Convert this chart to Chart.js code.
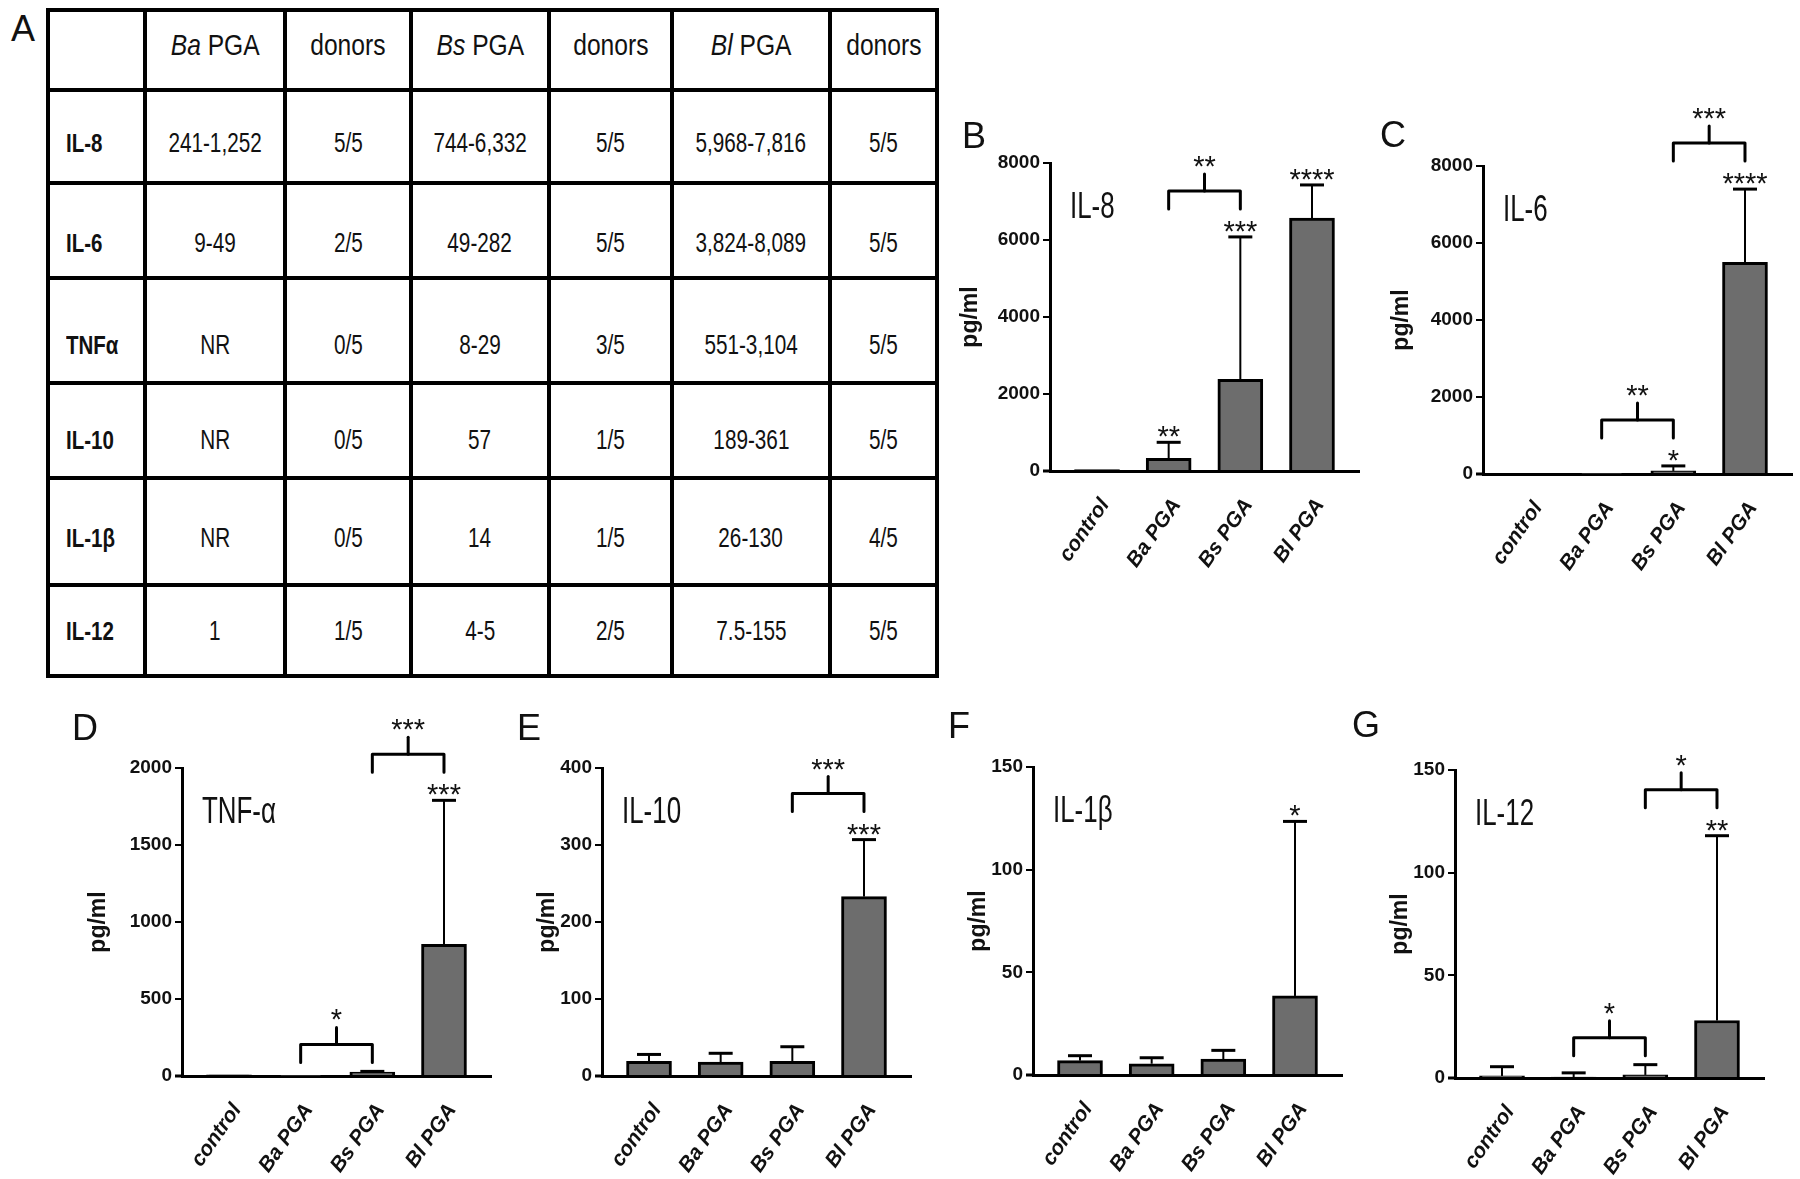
<!DOCTYPE html>
<html>
<head>
<meta charset="utf-8">
<title>PGA cytokine responses</title>
<script src="https://cdn.jsdelivr.net/npm/chart.js@4.4.1/dist/chart.umd.min.js"></script>
<style>
  html, body { margin: 0; padding: 0; background: #fff; }
  body { width: 1800px; height: 1179px; position: relative; overflow: hidden; font-family: 'Liberation Sans', Arial, sans-serif; color: #111; }
  .panel { position: absolute; font-size: 36px; line-height: 36px; }
  .rule { position: absolute; background: #000; }
  .cell { position: absolute; height: 30px; line-height: 30px; font-size: 28px; text-align: center; white-space: nowrap; }
  .cell span { display: inline-block; transform: scaleX(0.74); transform-origin: center; }
  .cell.head { font-size: 30px; }
  .cell.head span { transform: scaleX(0.82); }
  .cell.name { text-align: left; font-weight: bold; font-size: 25px; }
  .cell.name span { transform: scaleX(0.82); transform-origin: left center; }
  canvas { position: absolute; }
</style>
</head>
<body>
<div id="table"></div>
<canvas id="chartB" width="461" height="538"></canvas>
<canvas id="chartC" width="461" height="538"></canvas>
<canvas id="chartD" width="461" height="538"></canvas>
<canvas id="chartE" width="461" height="538"></canvas>
<canvas id="chartF" width="461" height="538"></canvas>
<canvas id="chartG" width="461" height="538"></canvas>
<script>
// ---- table A ----
const cytokines = ['IL-8', 'IL-6', 'TNFα', 'IL-10', 'IL-1β', 'IL-12'];
const baRange  = ['241-1,252', '9-49', 'NR', 'NR', 'NR', '1'];
const baDonors = ['5/5', '2/5', '0/5', '0/5', '0/5', '1/5'];
const bsRange  = ['744-6,332', '49-282', '8-29', '57', '14', '4-5'];
const bsDonors = ['5/5', '5/5', '3/5', '1/5', '1/5', '2/5'];
const blRange  = ['5,968-7,816', '3,824-8,089', '551-3,104', '189-361', '26-130', '7.5-155'];
const blDonors = ['5/5', '5/5', '5/5', '5/5', '4/5', '5/5'];
const species  = ['Ba', 'Bs', 'Bl'];

// ---- bar charts B-G ----
const groups = ['control', 'Ba PGA', 'Bs PGA', 'Bl PGA'];

const il8Mean  = [40, 330, 2380, 6570];
const il8Err   = [0, 415, 3700, 860];
const il8Stars = ['', '**', '***', '****'];
const il8Brackets = [[1, 2, '**']];

const il6Mean  = [0, 12, 80, 5500];
const il6Err   = [0, 0, 130, 1900];
const il6Stars = ['', '', '*', '****'];
const il6Brackets = [[1, 2, '**'], [2, 3, '***']];

const tnfMean  = [8, 3, 25, 855];
const tnfErr   = [0, 0, 5, 935];
const tnfStars = ['', '', '', '***'];
const tnfBrackets = [[1, 2, '*'], [2, 3, '***']];

const il10Mean  = [19, 18, 19, 233];
const il10Err   = [9, 11.5, 19, 74];
const il10Stars = ['', '', '', '***'];
const il10Brackets = [[2, 3, '***']];

const il1bMean  = [7, 5.5, 7.8, 38.5];
const il1bErr   = [2.4, 2.9, 4.2, 85];
const il1bStars = ['', '', '', '*'];
const il1bBrackets = [];

const il12Mean  = [1, 0.5, 1.5, 28];
const il12Err   = [4.5, 2, 5, 90];
const il12Stars = ['', '', '', '**'];
const il12Brackets = [[1, 2, '*'], [2, 3, '*']];

const SANS = "'Liberation Sans', Arial, sans-serif";

// table geometry
const colX = [48, 145, 285, 411, 549, 672, 830, 937];
const rowY = [10, 90, 183, 278, 383, 478, 585, 676];
const textY = [45, 143, 243, 345, 440, 538, 631];

function buildTable() {
  const box = document.getElementById('table');
  const add = (cls, css, html) => {
    const d = document.createElement('div');
    d.className = cls;
    Object.assign(d.style, css);
    if (html !== undefined) d.innerHTML = '<span>' + html + '</span>';
    box.appendChild(d);
  };
  colX.forEach((x, i) => {
    const w = (i === 0 || i === colX.length - 1) ? 4.5 : 3.5;
    add('rule', { left: (x - w / 2) + 'px', top: (rowY[0] - 2) + 'px', width: w + 'px', height: (rowY[rowY.length - 1] - rowY[0] + 4) + 'px' });
  });
  rowY.forEach((y, i) => {
    const h = (i === 0 || i === rowY.length - 1) ? 4.5 : 4;
    add('rule', { left: (colX[0] - 2) + 'px', top: (y - h / 2) + 'px', width: (colX[colX.length - 1] - colX[0] + 4) + 'px', height: h + 'px' });
  });
  const header = [''];
  species.forEach(s => { header.push('<i>' + s + '</i> PGA', 'donors'); });
  const rows = [header];
  cytokines.forEach((c, i) => {
    rows.push([c, baRange[i], baDonors[i], bsRange[i], bsDonors[i], blRange[i], blDonors[i]]);
  });
  rows.forEach((row, r) => {
    row.forEach((txt, c) => {
      const first = c === 0;
      const cls = r === 0 ? 'cell head' : (first ? 'cell name' : 'cell');
      add(cls, {
        left: (colX[c] + (first ? 18 : 0)) + 'px',
        width: (colX[c + 1] - colX[c] - (first ? 18 : 0)) + 'px',
        top: (textY[r] - 15) + 'px'
      }, txt);
    });
  });
}

function addPanelLetter(letter, left, baseline) {
  const d = document.createElement('div');
  d.className = 'panel';
  d.textContent = letter;
  d.style.left = left + 'px';
  d.style.top = (baseline - 30) + 'px';
  document.body.appendChild(d);
}

function drawStars(ctx, text, cx, cy) {
  ctx.font = '29px ' + SANS;
  ctx.fillStyle = '#111';
  ctx.textAlign = 'center';
  ctx.textBaseline = 'alphabetic';
  ctx.fillText(text, cx, cy + 17);
}

function makeChart(id, spec, pos) {
  const canvas = document.getElementById(id);
  canvas.style.left = (pos.left - 140) + 'px';
  canvas.style.top = (pos.top - 110) + 'px';

  const marks = {
    id: 'marks',
    afterDatasetsDraw(chart) {
      const { ctx, chartArea } = chart;
      const x = chart.scales.x, y = chart.scales.y;
      const tops = [];
      ctx.save();
      ctx.strokeStyle = '#000';
      spec.mean.forEach((m, i) => {
        const e = spec.err[i];
        const cx = x.getPixelForValue(i);
        const yTop = y.getPixelForValue(m + e);
        if (e > 0) {
          ctx.lineWidth = 2;
          ctx.beginPath();
          ctx.moveTo(cx, y.getPixelForValue(m));
          ctx.lineTo(cx, yTop);
          ctx.stroke();
          ctx.lineWidth = 3;
          ctx.beginPath();
          ctx.moveTo(cx - 12, yTop);
          ctx.lineTo(cx + 12, yTop);
          ctx.stroke();
        }
        if (spec.stars[i]) drawStars(ctx, spec.stars[i], cx, yTop - 13);
        tops.push(spec.stars[i] ? yTop - 46 : yTop - 27);
      });
      spec.brackets.forEach(([a, b, label]) => {
        const x1 = x.getPixelForValue(a), x2 = x.getPixelForValue(b);
        const yb = Math.min(tops[a], tops[b]);
        ctx.lineWidth = 3;
        ctx.lineJoin = 'round';
        ctx.lineCap = 'round';
        ctx.beginPath();
        ctx.moveTo(x1, yb + 18);
        ctx.lineTo(x1, yb);
        ctx.lineTo(x2, yb);
        ctx.lineTo(x2, yb + 18);
        ctx.stroke();
        const xm = (x1 + x2) / 2;
        ctx.beginPath();
        ctx.moveTo(xm, yb);
        ctx.lineTo(xm, yb - 17);
        ctx.stroke();
        drawStars(ctx, label, xm, yb - 32);
      });
      // x axis runs a little past the y axis, to the end of the zero tick
      ctx.lineWidth = 3;
      ctx.lineCap = 'butt';
      ctx.beginPath();
      ctx.moveTo(chartArea.left - 7, y.getPixelForValue(0));
      ctx.lineTo(chartArea.left, y.getPixelForValue(0));
      ctx.stroke();
      // cytokine name, condensed like the original narrow face
      ctx.translate(chartArea.left + 20, chartArea.top + 55);
      ctx.scale(0.7, 1);
      ctx.font = '37px ' + SANS;
      ctx.fillStyle = '#111';
      ctx.textAlign = 'left';
      ctx.textBaseline = 'alphabetic';
      ctx.fillText(spec.label, 0, 0);
      ctx.restore();
    }
  };

  return new Chart(canvas, {
    type: 'bar',
    data: {
      datasets: [{
        data: spec.mean.map((v, i) => ({ x: i, y: v })),
        backgroundColor: '#6d6d6d',
        borderColor: '#000',
        borderWidth: 3,
        barThickness: 45
      }]
    },
    options: {
      responsive: false,
      animation: false,
      events: [],
      layout: { padding: { left: 0, top: 110, right: 12, bottom: 0 } },
      plugins: { legend: { display: false }, tooltip: { enabled: false } },
      scales: {
        x: {
          type: 'linear',
          offset: false,
          min: -0.656,
          max: 3.656,
          afterBuildTicks: s => { s.ticks = groups.map((g, i) => ({ value: i })); },
          afterFit: s => { s.height = 120; },
          grid: { display: false, drawTicks: false },
          border: { color: '#000', width: 3 },
          ticks: {
            callback: v => groups[v],
            autoSkip: false,
            minRotation: 55,
            maxRotation: 55,
            padding: 23,
            labelOffset: 8,
            color: '#111',
            font: { family: SANS, size: 21, weight: 'bold', style: 'italic' }
          }
        },
        y: {
          min: 0,
          max: spec.max,
          afterFit: s => { s.width = 140; },
          grid: { drawOnChartArea: false, drawTicks: true, tickLength: 7, color: '#000', lineWidth: 2 },
          border: { color: '#000', width: 3 },
          ticks: {
            stepSize: spec.step,
            callback: v => String(v),
            padding: 3,
            color: '#111',
            font: { family: SANS, size: 19, weight: 'bold' }
          },
          title: {
            display: true,
            text: 'pg/ml',
            color: '#111',
            font: { family: SANS, size: 23, weight: 'bold' },
            padding: { top: pos.titlePad, bottom: 0 }
          }
        }
      }
    },
    plugins: [marks]
  });
}

buildTable();
addPanelLetter('A', 11, 41);
addPanelLetter('B', 962, 148);
addPanelLetter('C', 1380, 147);
addPanelLetter('D', 72, 740);
addPanelLetter('E', 517, 740);
addPanelLetter('F', 948, 738);
addPanelLetter('G', 1352, 737);

makeChart('chartB', { label: 'IL-8', mean: il8Mean, err: il8Err, stars: il8Stars, brackets: il8Brackets, max: 8000, step: 2000 },
  { left: 1050, top: 163, titlePad: 47 });
makeChart('chartC', { label: 'IL-6', mean: il6Mean, err: il6Err, stars: il6Stars, brackets: il6Brackets, max: 8000, step: 2000 },
  { left: 1483, top: 166, titlePad: 45 });
makeChart('chartD', { label: 'TNF-α', mean: tnfMean, err: tnfErr, stars: tnfStars, brackets: tnfBrackets, max: 2000, step: 500 },
  { left: 182, top: 768, titlePad: 43 });
makeChart('chartE', { label: 'IL-10', mean: il10Mean, err: il10Err, stars: il10Stars, brackets: il10Brackets, max: 400, step: 100 },
  { left: 602, top: 768, titlePad: 72 });
makeChart('chartF', { label: 'IL-1β', mean: il1bMean, err: il1bErr, stars: il1bStars, brackets: il1bBrackets, max: 150, step: 50 },
  { left: 1033, top: 767, titlePad: 72 });
makeChart('chartG', { label: 'IL-12', mean: il12Mean, err: il12Err, stars: il12Stars, brackets: il12Brackets, max: 150, step: 50 },
  { left: 1455, top: 770, titlePad: 72 });
</script>
</body>
</html>
